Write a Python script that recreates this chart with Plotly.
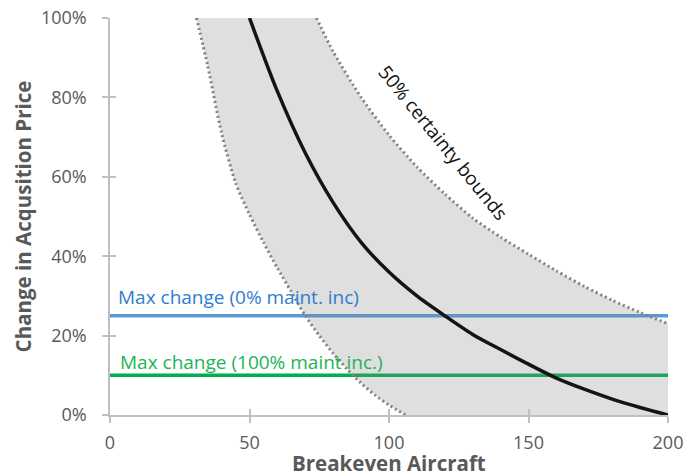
import plotly.graph_objects as go

# Central breakeven estimate: change in acquisition price (%) vs breakeven aircraft
mid_x = [50, 60, 70, 80, 90, 100, 110, 120, 130, 140, 150, 160, 170, 180, 190, 200]
mid_y = [100, 81.5, 66, 53.5, 43.5, 36, 30, 25, 20.3, 16.5, 12.8, 9.3, 6.5, 4, 1.9, 0]

# Upper 50% certainty bound
upper_x = [74, 80, 90, 100, 110, 120, 130, 140, 150, 160, 170, 180, 190, 200]
upper_y = [100, 91.5, 80, 70.5, 62.5, 55.7, 49.6, 44.8, 40.5, 36.3, 32.4, 28.9, 25.8, 23]

# Lower 50% certainty bound
lower_x = [31, 35, 40, 45, 50, 55, 60, 65, 70, 75, 80, 85, 90, 95, 100, 106]
lower_y = [100, 88, 71, 58.5, 50.5, 43.5, 37, 31, 25, 20, 15.5, 11.5, 8, 5, 2.5, 0]

# Maximum allowable change in acquisition price
max_change_0 = 25     # 0% maintenance increase
max_change_100 = 10   # 100% maintenance increase

x_range = [0, 200]
y_range = [0, 100]
x_ticks = [0, 50, 100, 150, 200]
y_ticks = [0, 20, 40, 60, 80, 100]
y_tick_labels = ["0%", "20%", "40%", "60%", "80%", "100%"]

FONT = "Open Sans"
AXIS_GREY = "#bfbfbf"
TEXT_GREY = "#595959"

fig = go.Figure()

# Horizontal limits (drawn first so the shaded band tints them)
fig.add_trace(go.Scatter(
    x=x_range, y=[max_change_0, max_change_0], mode="lines",
    line=dict(color="#5b9bd5", width=3.5), hoverinfo="skip", showlegend=False))
fig.add_trace(go.Scatter(
    x=x_range, y=[max_change_100, max_change_100], mode="lines",
    line=dict(color="#00b050", width=3.5), hoverinfo="skip", showlegend=False))

# Band floor: lower bound continued along 0% to the right edge
fig.add_trace(go.Scatter(
    x=lower_x + [x_range[1]], y=lower_y + [y_range[0]], mode="lines",
    line=dict(width=0, shape="spline", smoothing=0.7),
    hoverinfo="skip", showlegend=False))

# Upper bound, shaded down to the floor trace
fig.add_trace(go.Scatter(
    x=upper_x, y=upper_y, mode="lines", fill="tonexty",
    fillcolor="rgba(128,128,128,0.25)",
    line=dict(color="#808080", width=3, dash="2px,3px", shape="spline", smoothing=0.7),
    hoverinfo="skip", showlegend=False))

# Lower bound outline
fig.add_trace(go.Scatter(
    x=lower_x, y=lower_y, mode="lines",
    line=dict(color="#808080", width=3, dash="2px,3px", shape="spline", smoothing=0.7),
    hoverinfo="skip", showlegend=False))

# Central estimate
fig.add_trace(go.Scatter(
    x=mid_x, y=mid_y, mode="lines",
    line=dict(color="#141414", width=3.5, shape="spline", smoothing=0.8),
    hoverinfo="skip", showlegend=False))

axis_common = dict(
    showgrid=False, zeroline=False, showline=True, linecolor=AXIS_GREY, linewidth=1.5,
    ticks="outside", ticklen=6, tickwidth=1.5, tickcolor=AXIS_GREY, automargin=False,
    tickfont=dict(family=FONT, size=18, color=TEXT_GREY),
)

fig.update_layout(
    width=684, height=472,
    margin=dict(l=110, r=16, t=18, b=57),
    plot_bgcolor="white", paper_bgcolor="white",
    font=dict(family=FONT, color=TEXT_GREY),
    xaxis=dict(range=x_range, tickvals=x_ticks, ticklabelstandoff=5, **axis_common),
    yaxis=dict(range=y_range, tickvals=y_ticks, ticktext=y_tick_labels,
               ticklabelstandoff=12,
               title=dict(text="<b>Change in Acqusition Price</b>", standoff=4,
                          font=dict(family=FONT, size=20.5, color=TEXT_GREY)),
               **axis_common),
    # Mirror axes carrying the inner half of each tick mark
    xaxis2=dict(range=x_range, tickvals=x_ticks, overlaying="x", anchor="y",
                showticklabels=False, showgrid=False, zeroline=False, showline=False,
                ticks="inside", ticklen=6, tickwidth=1.5, tickcolor=AXIS_GREY),
    yaxis2=dict(range=y_range, tickvals=y_ticks, overlaying="y", anchor="x",
                showticklabels=False, showgrid=False, zeroline=False, showline=False,
                ticks="inside", ticklen=6, tickwidth=1.5, tickcolor=AXIS_GREY),
)

# Invisible trace so the mirror axes are rendered
fig.add_trace(go.Scatter(x=[None], y=[None], xaxis="x2", yaxis="y2",
                         showlegend=False, hoverinfo="skip"))

# X axis title
fig.add_annotation(
    x=0.5, y=0, xref="paper", yref="paper", yshift=-48,
    text="<b>Breakeven Aircraft</b>", showarrow=False,
    xanchor="center", yanchor="middle",
    font=dict(family=FONT, size=20.5, color=TEXT_GREY))

fig.add_annotation(
    x=2.3, y=max_change_0 + 4.8, xref="x", yref="y",
    text="Max change (0% maint. inc)", showarrow=False,
    xanchor="left", yanchor="middle",
    font=dict(family=FONT, size=19, color="#2e7dd1"))
fig.add_annotation(
    x=2.7, y=max_change_100 + 3.4, xref="x", yref="y",
    text="Max change (100% maint inc.)", showarrow=False,
    xanchor="left", yanchor="middle",
    font=dict(family=FONT, size=19, color="#1db356"))
fig.add_annotation(
    x=119.5, y=68.5, xref="x", yref="y",
    text="50% certainty bounds", showarrow=False, textangle=51,
    xanchor="center", yanchor="middle",
    font=dict(family=FONT, size=19, color="#111111"))

fig.write_html("out.html")
